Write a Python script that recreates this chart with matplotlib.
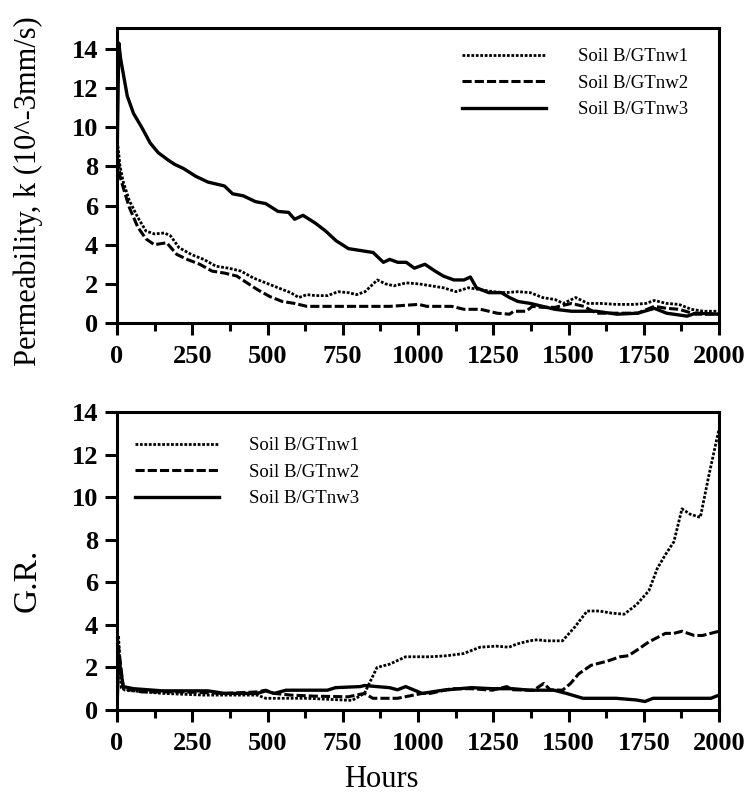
import matplotlib
matplotlib.use('AGG')
import matplotlib.pyplot as plt
from matplotlib.ticker import MultipleLocator

plt.rcParams['font.family'] = ['Liberation Serif', 'DejaVu Serif']

# --- permeability (top panel) ---
k_hours_1 = [0, 10, 21, 41, 69, 96, 124, 158, 178, 206, 247, 288, 329, 371, 412, 453, 494, 535,
             577, 604, 631, 659, 700, 734, 769, 796, 824, 865, 892, 920, 961, 1002, 1043, 1084,
             1126, 1167, 1208, 1249, 1290, 1332, 1373, 1414, 1455, 1483, 1524, 1565, 1606, 1661,
             1716, 1757, 1785, 1826, 1867, 1908, 1949, 2000]
k_nw1 = [9.5, 8.0, 7.2, 6.25, 5.4, 4.7, 4.55, 4.6, 4.45, 3.85, 3.5, 3.25, 2.9, 2.8, 2.65, 2.3, 2.05,
         1.8, 1.55, 1.3, 1.45, 1.4, 1.4, 1.6, 1.55, 1.45, 1.6, 2.2, 2.0, 1.9, 2.05, 2.0, 1.9, 1.8,
         1.6, 1.8, 1.7, 1.6, 1.55, 1.6, 1.55, 1.3, 1.2, 1.0, 1.3, 1.0, 1.0, 0.95, 0.95, 1.0, 1.15,
         1.0, 0.95, 0.7, 0.6, 0.6]

k_hours_2 = [0, 10, 21, 41, 69, 96, 124, 165, 199, 233, 275, 316, 357, 398, 432, 467, 508, 549,
             590, 631, 686, 769, 906, 1002, 1030, 1112, 1153, 1208, 1263, 1304, 1318, 1359, 1380,
             1414, 1455, 1510, 1551, 1592, 1661, 1730, 1785, 1826, 1867, 1922, 2000]
k_nw2 = [9.0, 7.5, 6.9, 5.9, 4.9, 4.3, 4.0, 4.1, 3.5, 3.25, 3.0, 2.65, 2.55, 2.4, 2.05, 1.7, 1.35,
         1.1, 1.0, 0.85, 0.85, 0.85, 0.85, 0.95, 0.85, 0.85, 0.7, 0.7, 0.5, 0.45, 0.6, 0.6, 0.85,
         0.8, 0.8, 1.0, 0.85, 0.5, 0.5, 0.5, 0.85, 0.75, 0.7, 0.45, 0.45]

k_hours_3 = [0, 6, 12, 34, 55, 82, 110, 137, 172, 192, 220, 261, 302, 357, 384, 419, 460, 494,
             535, 570, 590, 618, 659, 693, 728, 769, 810, 851, 885, 906, 933, 961, 988, 1023,
             1057, 1084, 1119, 1153, 1174, 1194, 1235, 1277, 1304, 1332, 1373, 1414, 1455, 1510,
             1592, 1661, 1730, 1785, 1826, 1894, 1922, 2000]
k_nw3 = [8.0, 14.3, 13.5, 11.6, 10.7, 10.0, 9.2, 8.7, 8.3, 8.1, 7.9, 7.5, 7.2, 7.0, 6.6, 6.5, 6.2,
         6.1, 5.7, 5.65, 5.3, 5.5, 5.1, 4.7, 4.2, 3.8, 3.7, 3.6, 3.1, 3.25, 3.1, 3.1, 2.8, 3.0,
         2.65, 2.4, 2.2, 2.2, 2.35, 1.8, 1.55, 1.55, 1.3, 1.1, 1.0, 0.85, 0.7, 0.6, 0.6, 0.45,
         0.5, 0.75, 0.5, 0.35, 0.5, 0.45]

# --- gradient ratio (bottom panel) ---
gr_hours_1 = [0, 5, 14, 27, 151, 288, 466, 494, 630, 781, 822, 864, 905, 959, 1041, 1096, 1151,
              1206, 1260, 1302, 1329, 1370, 1397, 1425, 1480, 1521, 1562, 1603, 1644, 1685, 1726,
              1767, 1795, 1822, 1850, 1877, 1904, 1938, 1966, 2000]
gr_nw1 = [0.0, 3.5, 1.05, 0.93, 0.78, 0.7, 0.7, 0.55, 0.55, 0.45, 0.78, 2.0, 2.15, 2.5, 2.5,
          2.55, 2.65, 2.95, 3.0, 2.95, 3.1, 3.25, 3.3, 3.25, 3.25, 3.9, 4.65, 4.65, 4.55, 4.5,
          4.95, 5.6, 6.65, 7.3, 7.9, 9.45, 9.2, 9.05, 11.0, 13.2]

gr_hours_2 = [0, 5, 21, 82, 220, 357, 466, 494, 522, 577, 658, 768, 822, 850, 932, 1014, 1041,
              1110, 1178, 1247, 1295, 1315, 1384, 1418, 1439, 1480, 1507, 1534, 1575, 1630, 1671,
              1699, 1726, 1767, 1822, 1850, 1877, 1918, 1945, 2000]
gr_nw2 = [0.0, 3.0, 1.0, 0.85, 0.85, 0.78, 0.85, 0.93, 0.78, 0.7, 0.65, 0.62, 0.78, 0.55, 0.55,
          0.78, 0.78, 1.0, 1.0, 0.93, 1.1, 0.95, 0.93, 1.25, 0.95, 0.93, 1.25, 1.7, 2.1, 2.3,
          2.5, 2.55, 2.8, 3.2, 3.6, 3.6, 3.7, 3.5, 3.5, 3.7]

gr_hours_3 = [0, 5, 21, 55, 151, 302, 357, 466, 494, 522, 562, 699, 726, 808, 822, 905, 932, 959,
              1014, 1083, 1178, 1247, 1315, 1370, 1452, 1493, 1548, 1658, 1726, 1754, 1781, 1973,
              2000]
gr_nw3 = [0.0, 2.5, 1.1, 1.0, 0.9, 0.9, 0.78, 0.78, 0.9, 0.78, 0.93, 0.93, 1.05, 1.1, 1.15, 1.05,
          0.95, 1.1, 0.78, 0.93, 1.05, 1.0, 1.0, 0.93, 0.93, 0.78, 0.55, 0.55, 0.47, 0.4, 0.55,
          0.55, 0.7]

labels = ['Soil B/GTnw1', 'Soil B/GTnw2', 'Soil B/GTnw3']
styles = [(0, (1, 0.6)), (0, (3, 1)), '-']
widths = [2.0, 2.2, 2.4]

W, H = 746, 797
fig = plt.figure(figsize=(W / 100, H / 100), dpi=100)
ax1 = fig.add_axes([117 / W, 1 - 323 / H, 602 / W, 295 / H])
ax2 = fig.add_axes([117 / W, 1 - 710 / H, 602 / W, 298 / H])

top_series = [(k_hours_1, k_nw1), (k_hours_2, k_nw2), (k_hours_3, k_nw3)]
bot_series = [(gr_hours_1, gr_nw1), (gr_hours_2, gr_nw2), (gr_hours_3, gr_nw3)]

for ax, series in ((ax1, top_series), (ax2, bot_series)):
    for (xs, ys), lab, ls, lw in zip(series, labels, styles, widths):
        ax.plot(xs, ys, color='black', linestyle=ls, lw=lw, label=lab)
    ax.set_xlim(0, 2000)
    ax.xaxis.set_major_locator(MultipleLocator(250))
    ax.xaxis.set_minor_locator(MultipleLocator(125))
    ax.yaxis.set_major_locator(MultipleLocator(2))
    for sp in ax.spines.values():
        sp.set_linewidth(2.2)
    ax.tick_params(which='major', direction='out', length=8.5, width=2.2, labelsize=19, pad=5)
    ax.tick_params(axis='x', which='major', pad=7)
    ax.tick_params(which='minor', direction='out', length=5.5, width=2.2)
    ax.tick_params(axis='y', which='minor', length=0)
    for t in ax.get_xticklabels() + ax.get_yticklabels():
        t.set_fontweight('bold')

ax1.set_ylim(0, 15.07)
ax2.set_ylim(0, 14)

ax1.set_ylabel('Permeability, k (10^-3mm/s)', fontsize=22)
ax1.yaxis.set_label_coords(-0.123, 0.446)
ax2.set_ylabel('G.R.', fontsize=24)
ax2.yaxis.set_label_coords(-0.123, 0.436)
ax2.set_xlabel('Hours', fontsize=22)
ax2.xaxis.set_label_coords(0.4385, -0.185)

ax1.legend(loc='upper left', bbox_to_anchor=(462 / W, 1 - 48 / H), bbox_transform=fig.transFigure,
           frameon=False, fontsize=13.5, handlelength=4.5, handletextpad=1.7, labelspacing=0.5,
           borderpad=0, borderaxespad=0)
ax2.legend(loc='upper left', bbox_to_anchor=(135 / W, 1 - 437 / H), bbox_transform=fig.transFigure,
           frameon=False, fontsize=13.5, handlelength=4.5, handletextpad=1.6, labelspacing=0.5,
           borderpad=0, borderaxespad=0)

fig.savefig('out.png', dpi=100)
